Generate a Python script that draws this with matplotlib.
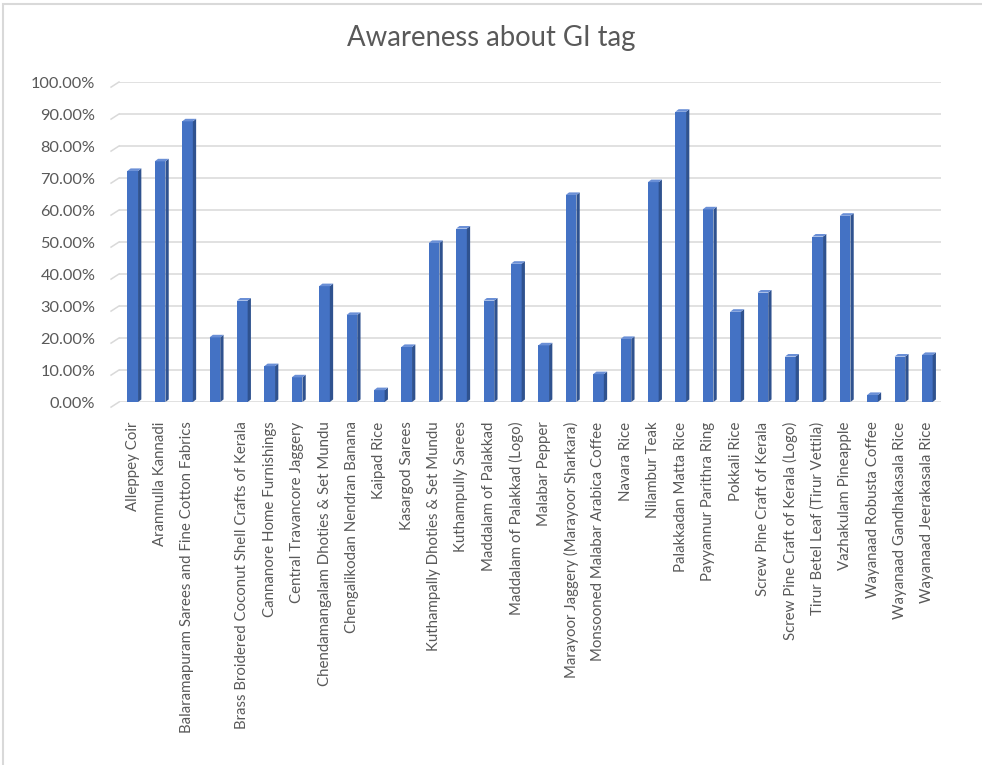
import numpy as np
import matplotlib
matplotlib.use('Agg')
import matplotlib.pyplot as plt
from matplotlib.patches import Polygon, Rectangle
from matplotlib.ticker import PercentFormatter

plt.rcParams['font.family'] = ['Lato', 'DejaVu Sans']

# GI products (4th category has no label in the source chart)
products = [
    'Alleppey Coir', 'Aranmulla Kannadi', 'Balaramapuram Sarees and Fine Cotton Fabrics', '',
    'Brass Broidered Coconut Shell Crafts of Kerala', 'Cannanore Home Furnishings',
    'Central Travancore Jaggery', 'Chendamangalam Dhoties & Set Mundu',
    'Chengalikodan Nendran Banana', 'Kaipad Rice', 'Kasargod Sarees',
    'Kuthampally Dhoties & Set Mundu', 'Kuthampully Sarees', 'Maddalam of Palakkad',
    'Maddalam of Palakkad (Logo)', 'Malabar Pepper', 'Marayoor Jaggery (Marayoor Sharkara)',
    'Monsooned Malabar Arabica Coffee', 'Navara Rice', 'Nilambur Teak',
    'Palakkadan Matta Rice', 'Payyannur Parithra Ring', 'Pokkali Rice',
    'Screw Pine Craft of Kerala', 'Screw Pine Craft of Kerala (Logo)',
    'Tirur Betel Leaf (Tirur Vettila)', 'Vazhakulam Pineapple', 'Wayanaad Robusta Coffee',
    'Wayanaad Gandhakasala Rice', 'Wayanaad Jeerakasala Rice',
]
# awareness in percent
awareness = [73.0, 76.0, 88.5, 21.0, 32.5, 12.0, 8.5, 37.0, 28.0, 4.5,
             18.0, 50.5, 55.0, 32.5, 44.0, 18.5, 65.5, 9.5, 20.5, 69.5,
             91.5, 61.0, 29.0, 35.0, 15.0, 52.5, 59.0, 3.0, 15.0, 15.5]
yticks = np.arange(0, 101, 10)

front_col = '#4472C4'
side_col = '#2F528F'
top_col = '#6A8FD6'
text_col = '#595959'
grid_col = '#D9D9D9'

fig = plt.figure(figsize=(9.82, 7.65), dpi=100)
ax = fig.add_axes([119 / 982, 363 / 765, 822 / 982, 320 / 765])

x = np.arange(len(products))
vals = np.array(awareness)
w = 0.39      # front face width
dx = 0.12     # depth offset (category units)
dy = 0.8      # depth offset (percent)

# fake 3d columns: front face + side + top
ax.bar(x, vals - dy, width=w, color=front_col, zorder=3)
for xi, v in zip(x, vals):
    h = v - dy
    xr = xi + w / 2
    xl = xi - w / 2
    ax.add_patch(Polygon([(xr, 0), (xr + dx, dy), (xr + dx, h + dy), (xr, h)],
                         closed=True, color=side_col, lw=0, zorder=3))
    ax.add_patch(Polygon([(xl, h), (xl + dx, h + dy), (xr + dx, h + dy), (xr, h)],
                         closed=True, color=top_col, lw=0, zorder=3))

ax.set_xlim(-0.5, len(products) - 0.5)
ax.set_ylim(0, 100)
ax.set_yticks(yticks)
ax.yaxis.set_major_formatter(PercentFormatter(decimals=2))
ax.grid(axis='y', color=grid_col, lw=1.1, zorder=0)
ax.set_axisbelow(True)

# little slanted stubs at the left of each gridline (3d look)
for t in yticks:
    ax.plot([-0.5 - 0.29, -0.5], [t - 1.6, t], color=grid_col, lw=1.1, clip_on=False, zorder=1)

for s in ax.spines.values():
    s.set_visible(False)
ax.tick_params(axis='y', length=0, pad=17, labelsize=11.8, labelcolor=text_col)
ax.set_xticks(x)
ax.set_xticklabels(products, rotation=90, fontsize=10.8, color=text_col)
ax.tick_params(axis='x', length=0, pad=14)

fig.text(0.5, 1 - 38 / 765, 'Awareness about GI tag', ha='center', va='center',
         fontsize=19.8, color=text_col)

# chart frame (left and top visible)
fig.patches.append(Rectangle((3 / 982, -0.05), 1.1, 1 - 4 / 765 + 0.05,
                             transform=fig.transFigure, fill=False,
                             edgecolor=grid_col, lw=1.5))

fig.savefig('out.png', dpi=100)
